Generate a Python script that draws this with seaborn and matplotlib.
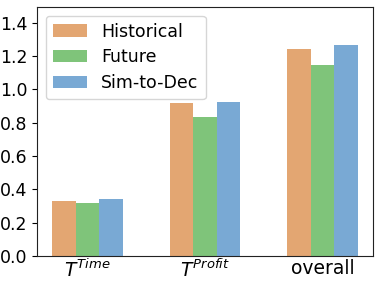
import matplotlib
matplotlib.use("Agg")
import matplotlib.pyplot as plt
import seaborn as sns
import pandas as pd

categories = [r"$T^{Time}$", r"$T^{Profit}$", "overall"]
series = ["Historical", "Future", "Sim-to-Dec"]
historical = [0.329, 0.917, 1.245]
future = [0.316, 0.833, 1.149]
sim_to_dec = [0.342, 0.925, 1.267]
colors = ["#E3A672", "#7FC47A", "#79A9D4"]

rows = []
for s, vals in zip(series, [historical, future, sim_to_dec]):
    for c, v in zip(categories, vals):
        rows.append({"cat": c, "series": s, "value": v})
df = pd.DataFrame(rows)

sns.set_style("ticks", {"axes.edgecolor": "black", "text.color": "black",
                        "xtick.color": "black", "ytick.color": "black"})
plt.rcParams["font.family"] = ["DejaVu Sans"]
plt.rcParams["mathtext.fontset"] = "dejavusans"

fig = plt.figure(figsize=(3.82, 2.87), dpi=100)
ax = fig.add_axes([37/382, 1-256/287, (373-37)/382, (256-7)/287])
sns.barplot(data=df, x="cat", y="value", hue="series", palette=colors,
            width=0.6, ax=ax, linewidth=0, saturation=1)
ax.set_xlim(-0.43, 2.43)
ax.set_ylim(0, 1.495)
ax.set_xlabel("")
ax.set_ylabel("")
ax.set_yticks([0.0, 0.2, 0.4, 0.6, 0.8, 1.0, 1.2, 1.4])
ax.tick_params(axis="y", labelsize=12.5, length=3.5, width=0.8, left=True)
ax.tick_params(axis="x", labelsize=13.5, length=0, pad=2)
for sp in ax.spines.values():
    sp.set_color("#222222")
    sp.set_linewidth(0.8)
leg = ax.legend(loc="upper left", fontsize=12.5, frameon=True, handlelength=2.0,
                handleheight=0.7, borderaxespad=0.5, labelspacing=0.45)
leg.get_frame().set_edgecolor("#cccccc")
for t in leg.get_texts():
    t.set_color("black")
fig.savefig("out.png", dpi=100)
